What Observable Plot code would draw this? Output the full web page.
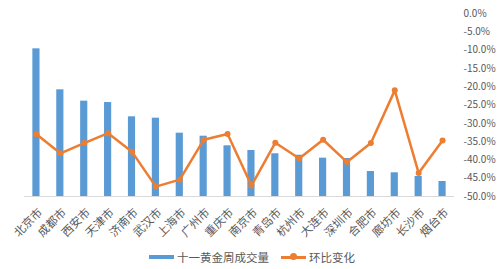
<!DOCTYPE html>
<html>
<head>
<meta charset="utf-8">
<script src="https://cdn.jsdelivr.net/npm/d3@7"></script>
<script src="https://cdn.jsdelivr.net/npm/@observablehq/plot@0.6"></script>
<style>
  body { margin: 0; background: #fff; font-family: "Noto Sans CJK SC", sans-serif; }
  #wrap { position: relative; width: 500px; height: 245px; }
  #wrap svg { position: absolute; left: 0; top: 0; }
  #legend { width: 500px; height: 24px; display: flex; justify-content: center; align-items: center;
            font-size: 11.5px; color: #595959; padding-left: 4px; box-sizing: border-box; }
  .item { display: flex; align-items: center; margin: 0 6px; }
  .sw { position: relative; width: 25px; height: 4px; margin-right: 3px; }
  .dot { position: absolute; left: 9px; top: -2.5px; width: 7px; height: 7px; border-radius: 50%; background: #ED7D31; }
</style>
</head>
<body>
<div id="wrap"></div>
<div id="legend">
  <div class="item"><div class="sw" style="background:#5B9BD5"></div><span>十一黄金周成交量</span></div>
  <div class="item"><div class="sw" style="background:#ED7D31;height:3px"><div class="dot"></div></div><span>环比变化</span></div>
</div>
<script>
const cities = ["北京市","成都市","西安市","天津市","济南市","武汉市","上海市","广州市","重庆市","南京市","青岛市","杭州市","大连市","深圳市","合肥市","廊坊市","长沙市","烟台市"];
const volumes = [1614,1166,1042,1027,871,856,692,659,554,503,467,451,419,415,273,259,219,164];
const changes = [-33.0,-38.2,-35.4,-32.7,-37.8,-47.3,-45.4,-34.5,-32.9,-47.0,-35.3,-39.6,-34.5,-40.6,-35.4,-21.0,-43.6,-34.7];
const pctTicks = [0,-5,-10,-15,-20,-25,-30,-35,-40,-45,-50];

const data = cities.map((c, i) => ({city: c, vol: volumes[i], chg: changes[i]}));

const common = {
  width: 500, height: 245,
  marginTop: 13, marginBottom: 49, marginLeft: 24, marginRight: 46,
  style: {background: "transparent", fontFamily: "'Noto Sans CJK SC', sans-serif"},
  x: {type: "band", domain: cities, paddingInner: 0.7, paddingOuter: 0.35, round: false}
};

const barPlot = Plot.plot({
  ...common,
  y: {domain: [0, 2000], axis: null},
  marks: [
    Plot.barY(data, {x: "city", y: "vol", fill: "#5B9BD5"}),
    Plot.ruleY([0], {stroke: "#D9D9D9", strokeWidth: 1}),
    Plot.axisX({tickRotate: -45, tickSize: 0, tickPadding: 14, dx: 4, fontSize: 11.5, fill: "#595959", label: null})
  ]
});

const linePlot = Plot.plot({
  ...common,
  x: {...common.x, axis: null},
  y: {domain: [-50, 0], axis: null},
  marks: [
    Plot.axisY({anchor: "right", ticks: pctTicks, tickFormat: d => d.toFixed(1) + "%", tickSize: 0, tickPadding: 9, fontSize: 10, fill: "#595959", label: null, textAnchor: "start"}),
    Plot.line(data, {x: "city", y: "chg", stroke: "#ED7D31", strokeWidth: 2.5}),
    Plot.dot(data, {x: "city", y: "chg", fill: "#ED7D31", r: 3})
  ]
});

document.getElementById("wrap").append(barPlot, linePlot);
</script>
</body>
</html>
